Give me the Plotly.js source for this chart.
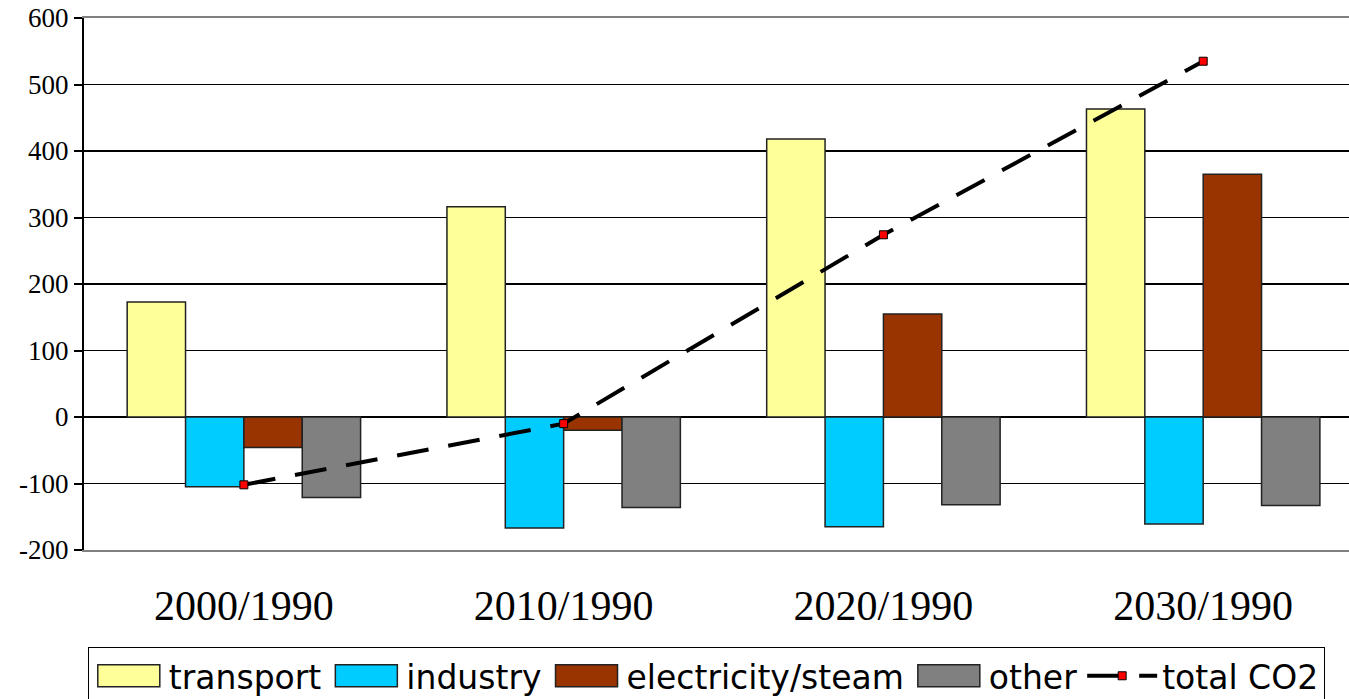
<!DOCTYPE html>
<html>
<head>
<meta charset="utf-8">
<script src="https://cdn.plot.ly/plotly-3.0.1.min.js"></script>
<style>
  html, body { margin: 0; padding: 0; background: #fff; }
  #chart { width: 1349px; height: 699px; }
</style>
</head>
<body>
<div id="chart"></div>
<script>
const categories = ["2000/1990", "2010/1990", "2020/1990", "2030/1990"];
const transport = [173, 316, 418, 463];
const industry = [-105, -167, -165, -161];
const electricity = [-46, -20, 155, 365];
const other = [-121, -136, -132, -133];
const totalCO2 = [-102, -10, 274, 535];
const yTicks = [-200, -100, 0, 100, 200, 300, 400, 500, 600];
const yTickText = ["-200", "-100", "0", "100", "200", "300", "400", "500", "600"];
const boundaryTicks = [0.5, 1.5, 2.5];

const xRange = [-0.5, 3.456];
const serif = "Liberation Serif";
const barLine = { color: "#222222", width: 1.5 };

const traces = [
  { type: "bar", name: "transport", x: categories, y: transport,
    marker: { color: "#FFFF99", line: barLine } },
  { type: "bar", name: "industry", x: categories, y: industry,
    marker: { color: "#00CCFF", line: barLine } },
  { type: "bar", name: "electricity/steam", x: categories, y: electricity,
    marker: { color: "#993300", line: barLine } },
  { type: "bar", name: "other", x: categories, y: other,
    marker: { color: "#808080", line: barLine } },
  { type: "scatter", mode: "lines+markers", name: "total CO2", x: categories, y: totalCO2,
    line: { color: "#000000", width: 4, dash: "32px,20px" },
    marker: { symbol: "square", size: 8, color: "#FF0000", line: { color: "#000000", width: 1 } } }
];

const layout = {
  width: 1349, height: 699,
  margin: { l: 84, r: 0, t: 18, b: 149, autoexpand: false },
  font: { family: serif, color: "#000" },
  paper_bgcolor: "#ffffff", plot_bgcolor: "#ffffff",
  barmode: "group", bargap: 0.27, bargroupgap: 0,
  showlegend: true,
  legend: {
    orientation: "h", x: 0.003, xanchor: "left", y: -0.182, yanchor: "top",
    font: { family: "DejaVu Sans", size: 33, color: "#000" },
    bordercolor: "#000000", borderwidth: 1, bgcolor: "#ffffff",
    itemwidth: 70, traceorder: "normal"
  },
  xaxis: {
    type: "category", range: xRange, showgrid: false, zeroline: false,
    showline: true, linecolor: "#808080", linewidth: 2, mirror: true,
    ticks: "", ticklabelstandoff: 18,
    tickfont: { family: serif, size: 42, color: "#000" }
  },
  xaxis2: {
    type: "linear", overlaying: "x", anchor: "free", position: 0.25, range: xRange,
    showgrid: false, zeroline: false, showline: false, showticklabels: false,
    tickmode: "array", tickvals: boundaryTicks, ticks: "outside", ticklen: 12,
    tickwidth: 1.5, tickcolor: "#000"
  },
  xaxis3: {
    type: "linear", overlaying: "x", anchor: "free", position: 0.25, range: xRange,
    showgrid: false, zeroline: false, showline: false, showticklabels: false,
    tickmode: "array", tickvals: boundaryTicks, ticks: "inside", ticklen: 12,
    tickwidth: 1.5, tickcolor: "#000"
  },
  yaxis: {
    range: [-200, 600], tickmode: "array", tickvals: yTicks, ticktext: yTickText,
    showgrid: true, gridcolor: "#000000", gridwidth: 1.3,
    zeroline: true, zerolinecolor: "#000000", zerolinewidth: 2,
    showline: true, linecolor: "#000000", linewidth: 2,
    ticks: "outside", ticklen: 8, tickwidth: 2, tickcolor: "#000",
    tickfont: { family: serif, size: 27, color: "#000" }
  }
};

Plotly.newPlot("chart", traces, layout, { displayModeBar: false, staticPlot: true }).then(function () {
  const items = document.querySelectorAll(".legend .traces");
  items.forEach(function (g, i) {
    if (i < 4) {
      g.querySelectorAll(".legendpoints path").forEach(function (p) {
        p.setAttribute("d", "M31,11H-31V-11H31Z");
      });
    }
  });
});
</script>
</body>
</html>
